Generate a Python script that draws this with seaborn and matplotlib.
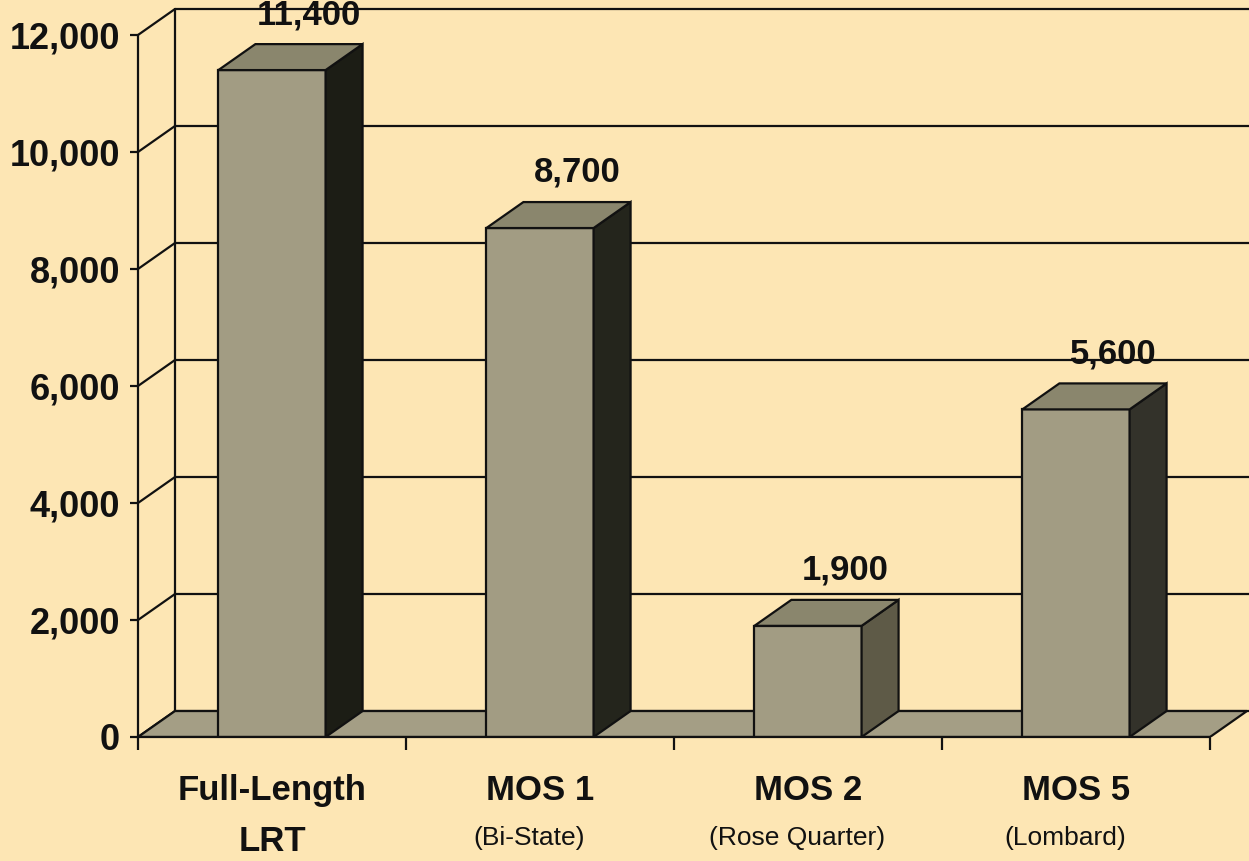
import matplotlib
matplotlib.use("Agg")
import matplotlib.pyplot as plt
from matplotlib.patches import Polygon
import seaborn as sns

# Data
categories = ["Full-Length", "MOS 1", "MOS 2", "MOS 5"]
subtitles = ["LRT", "(Bi-State)", "(Rose Quarter)", "(Lombard)"]
values = [11400, 8700, 1900, 5600]
y_ticks = [0, 2000, 4000, 6000, 8000, 10000, 12000]

# Styling
BG = "#FDE6B4"
FRONT = "#A29C83"
TOP = "#8A866D"
FLOOR = "#A49E85"
SIDES = ["#1C1D15", "#24251C", "#5E5A47", "#33322A"]
INK = "#111111"

sns.set_style("white")
plt.rcParams["font.family"] = ["Liberation Sans", "DejaVu Sans"]

fig = plt.figure(figsize=(12.49, 8.61), dpi=100, facecolor=BG)
ax = fig.add_axes([138 / 1249, 124 / 861, 1 - 138 / 1249, 737 / 861])
ax.set_facecolor(BG)

# depth of the pseudo-3D projection (in data units)
dx, dy = 0.138, 444

sns.barplot(x=categories, y=values, width=0.4, color=FRONT, saturation=1,
            edgecolor=INK, linewidth=1.6, ax=ax, zorder=4)

x_left, x_right = -0.5, 3.5 + 39 / 268
ymax = 12598
ax.set_xlim(x_left, x_right)
ax.set_ylim(0, ymax)

# back wall grid and left wall diagonals
for v in y_ticks:
    ax.plot([x_left + dx, x_right + 0.2], [v + dy, v + dy], color=INK, lw=1.6,
            zorder=1, clip_on=False)
    ax.plot([x_left, x_left + dx], [v, v + dy], color=INK, lw=1.6, zorder=1)
ax.plot([x_left + dx, x_left + dx], [dy, y_ticks[-1] + dy], color=INK, lw=1.6, zorder=1)

# floor
n = len(categories)
floor = Polygon([(x_left, 0), (n - 0.5, 0), (n - 0.5 + dx, dy), (x_left + dx, dy)],
                closed=True, facecolor=FLOOR, edgecolor=INK, lw=1.6, zorder=2)
ax.add_patch(floor)

# top and side faces of each bar, with value labels
for bar, side_c, val in zip(ax.patches[:n], SIDES, values):
    x0 = bar.get_x()
    x1 = x0 + bar.get_width()
    h = bar.get_height()
    top = Polygon([(x0, h), (x1, h), (x1 + dx, h + dy), (x0 + dx, h + dy)],
                  closed=True, facecolor=TOP, edgecolor=INK, lw=1.6, zorder=4)
    side = Polygon([(x1, 0), (x1 + dx, dy), (x1 + dx, h + dy), (x1, h)],
                   closed=True, facecolor=side_c, edgecolor=INK, lw=1.6, zorder=4)
    ax.add_patch(side)
    ax.add_patch(top)
    ax.text(x0 + bar.get_width() / 2 + dx, val + 950, f"{val:,}",
            ha="center", va="center", fontsize=25, fontweight="bold",
            color=INK, zorder=6)

# axes, ticks
for s in ["top", "right"]:
    ax.spines[s].set_visible(False)
ax.spines["left"].set_bounds(0, y_ticks[-1])
ax.spines["bottom"].set_bounds(x_left, n - 0.5)
for s in ["left", "bottom"]:
    ax.spines[s].set_color(INK)
    ax.spines[s].set_linewidth(1.6)
    ax.spines[s].set_zorder(5)

ax.set_yticks(y_ticks)
ax.set_yticklabels([f"{v:,}" for v in y_ticks], fontsize=26, fontweight="bold",
                   color=INK)
ax.tick_params(axis="y", direction="out", length=6, width=1.6, pad=7, color=INK, left=True)

ax.set_xticks([i - 0.5 for i in range(n + 1)])
ax.set_xticklabels([])
ax.tick_params(axis="x", direction="out", length=9, width=1.6, color=INK, bottom=True)
ax.set_xlabel("")
ax.set_ylabel("")

# category labels below the axis
xt = ax.get_xaxis_transform()
for i, (cat, sub) in enumerate(zip(categories, subtitles)):
    ax.text(i, -0.072, cat, transform=xt, ha="center", va="center",
            fontsize=25, fontweight="bold", color=INK)
    if sub == "LRT":
        ax.text(i, -0.142, sub, transform=xt, ha="center", va="center",
                fontsize=25, fontweight="bold", color=INK)
    else:
        ax.text(i - 0.04, -0.137, sub, transform=xt, ha="center", va="center",
                fontsize=19, color=INK)

fig.savefig("out.png", dpi=100, facecolor=BG)
